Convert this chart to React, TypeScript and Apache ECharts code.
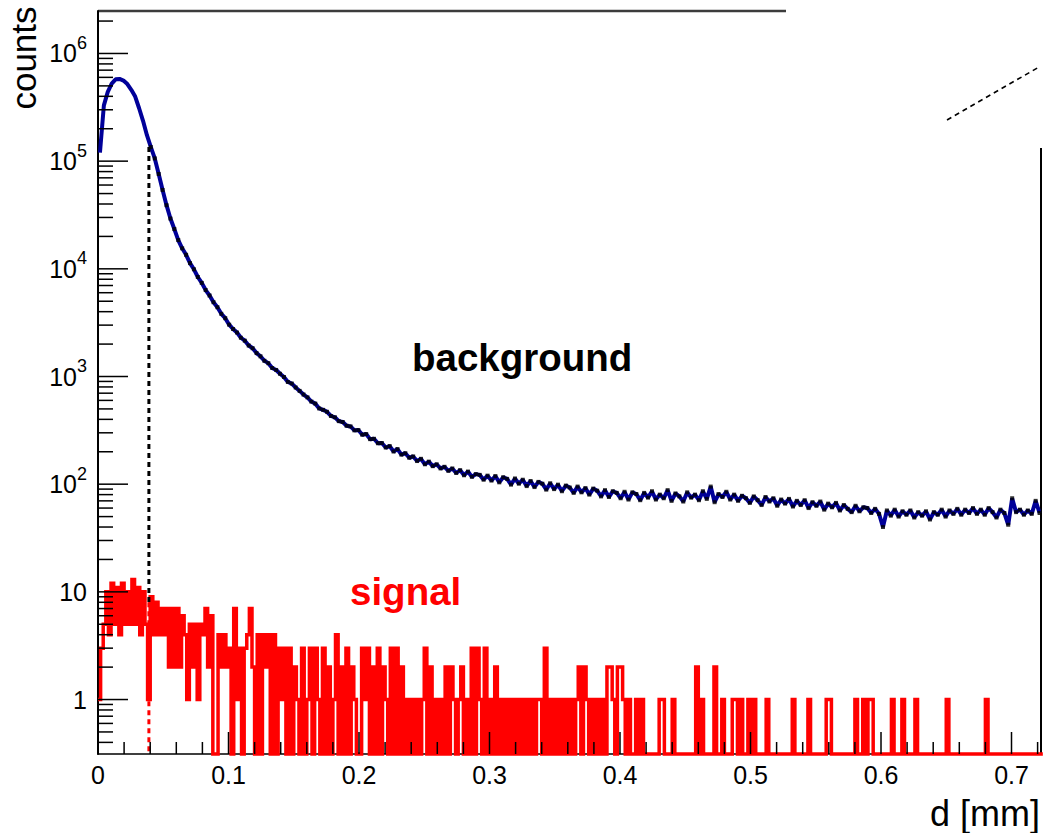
import React, { useEffect, useRef } from 'react';
import * as echarts from 'echarts';

// ---- axis ranges & bins ----
const X_MAX = 0.7226;
const Y_MIN = 0.312;
const Y_MAX = 2.48e6;
const BG_BIN = 0.003;
const SIG_BIN = 0.002;
const CUT = 0.039;
const CUT_JOIN = 8;

const X_TICK_LABELS = ['0', '0.1', '0.2', '0.3', '0.4', '0.5', '0.6', '0.7'];
const Y_DECADES = [0, 1, 2, 3, 4, 5, 6];

// ---- background (counts per 0.003 mm bin) ----
const bgPeak = [
  120000, 330000, 440000, 525000, 575000, 580000, 560000, 520000, 460000, 398000,
  310000, 237000, 174000, 135000, 106000, 76000, 54000, 39000, 29300, 23400,
  18500, 15500, 13500, 11300, 9900, 8400, 7400, 6350, 5650, 4900,
  4400, 3820, 3480, 3030, 2760,
];
const bgMid = [
  2560, 2290, 2150, 1940, 1830, 1650, 1540, 1400, 1330, 1200,
  1150, 1060, 990, 890, 860, 790, 735, 680, 640, 585,
  560, 505, 490, 470, 430, 418, 385, 378, 349, 344,
  316, 318, 288, 292, 262, 264, 240, 241, 219, 226,
  201, 212, 188, 194, 176, 181, 164, 172, 153, 162,
  147, 153, 140, 145, 133, 140, 127, 135, 121, 131,
  117, 124, 122, 110, 120,
];
const bgTail = [
  108, 119, 104, 116, 112, 99, 113, 101, 110, 96,
  107, 94, 105, 101, 89, 102, 90, 99, 86, 97,
  93, 83, 95, 84, 92, 80, 91, 87, 77, 88,
  76, 86, 83, 74, 85, 72, 84, 81, 71, 83,
  75, 86, 72, 80, 74, 88, 70, 82, 77, 69,
  84, 75, 80, 71, 86, 73, 95, 68, 81, 76,
  85, 72, 80, 70, 78, 74, 67, 77, 71, 64,
  76, 69, 74, 63, 72, 66, 73, 62, 70, 64,
  71, 60, 68, 63, 69, 58, 66, 61, 67, 57,
  64, 59, 55, 63, 56, 61, 60, 54, 59, 53,
  40, 57, 51, 58, 50, 56, 52, 57, 49, 55,
  51, 56, 47, 55, 52, 58, 50, 57, 53, 59,
  52, 58, 54, 60, 53, 58, 52, 60, 55, 49,
  58, 54, 42, 74, 55, 58, 52, 57, 53, 70,
  54,
];

// ---- signal (counts per 0.002 mm bin) ----
const sig0 = [
  1, 3, 5, 10, 4, 12, 5, 11, 4, 12, 5, 10, 5, 13, 5, 11, 4, 10, 5, 1,
  9, 4, 8, 4, 7, 4, 7, 2, 7, 2, 7, 2, 6, 4, 1, 5, 2, 5, 1, 5,
  4, 7, 2, 6, 0, 0, 4, 2, 4, 2,
];
const sig1 = [
  3, 0, 7, 1, 3, 0, 3, 4, 7, 2, 0, 4, 0, 4, 2, 4, 0, 4, 0, 3,
  1, 3, 0, 3, 0, 2, 1, 0, 3, 0, 1, 3, 0, 3, 1, 0, 3, 0, 2, 0,
  1, 4, 0, 2, 0, 3, 0, 2, 1, 0,
];
const sig2 = [
  0, 3, 1, 3, 0, 2, 0, 3, 0, 2, 1, 0, 3, 0, 3, 0, 2, 0, 1, 0,
  1, 0, 1, 0, 1, 3, 0, 2, 0, 1, 0, 1, 0, 2, 0, 2, 1, 0, 1, 2,
  0, 1, 0, 3, 0, 3, 1, 0, 3, 0,
];
const sig3 = [
  1, 0, 2, 0, 1, 0, 1, 0, 1, 0, 1, 0, 1, 0, 1, 0, 1, 0, 1, 1,
  0, 3, 0, 1, 0, 1, 0, 1, 0, 1, 0, 1, 0, 1, 2, 0, 2, 1, 0, 1,
  0, 1, 0, 1, 0, 2, 2, 1, 0, 2,
];
const sig4 = [
  2, 1, 0, 1, 0, 0, 1, 0, 1, 0, 0, 0, 0, 0, 0, 1, 1, 0, 0, 0,
  1, 0, 0, 0, 0, 0, 0, 0, 0, 2, 0, 1, 0, 0, 0, 0, 2, 0, 0, 1,
  0, 0, 0, 1, 1, 0, 1, 0, 0, 1,
];
const sig5 = [
  0, 1, 0, 0, 0, 0, 1, 0, 0, 0, 0, 0, 0, 0, 0, 0, 1, 0, 0, 0,
  0, 0, 1, 0, 0, 0, 0, 0, 0, 1, 1, 0, 0, 0, 0, 0, 0, 0, 0, 0,
  1, 0, 0, 1, 0, 1, 1, 0, 0, 0,
];
const sig6 = [
  0, 0, 0, 0, 1, 0, 0, 0, 1, 0, 0, 0, 0, 1, 0, 0, 0, 0, 0, 0,
  0, 0, 0, 0, 0, 1, 0, 0, 0, 0, 0, 0, 0, 0, 0, 0, 0, 0, 0, 0,
  1, 0, 0, 0, 0, 0, 0, 0, 0, 0, 0, 0, 0, 0, 0, 0, 0, 0, 0, 0,
  0, 0,
];

const FONT = 'Liberation Sans';
const GRID = { left: 98, right: 2, top: 11, bottom: 79 };

function stepPoints(values: number[], w: number, floor: number) {
  const pts: number[][] = [];
  values.forEach((v, i) => {
    const y = v > 0 ? v : floor;
    pts.push([i * w, y], [(i + 1) * w, y]);
  });
  return pts;
}

export default function App() {
  const ref = useRef<HTMLDivElement>(null);
  useEffect(() => {
    if (!ref.current) return;
    const chart = echarts.init(ref.current, null, { renderer: 'svg' });
    const bg = [...bgPeak, ...bgMid, ...bgTail];
    const sig = [...sig0, ...sig1, ...sig2, ...sig3, ...sig4, ...sig5, ...sig6];
    const bgCenters = bg.map((v, i) => [(i + 0.5) * BG_BIN, v]);
    const bgMarkers = bgCenters.filter((p) => p[0] >= CUT);
    const bgAtCut = bg[Math.floor(CUT / BG_BIN)];

    // tick marks (ROOT style, inside)
    const ticks: number[][] = [];
    for (let i = 0; i <= 36; i++) {
      const x = +(i * 0.02).toFixed(3);
      if (x > X_MAX) break;
      ticks.push([x, Y_MIN, i % 5 === 0 ? 22 : 12, 0]);
    }
    for (let n = -1; n <= 6; n++) {
      for (let m = 1; m <= 9; m++) {
        const v = m * Math.pow(10, n);
        if (v < Y_MIN || v > Y_MAX) continue;
        ticks.push([0, v, m === 1 ? 30 : 15, 1]);
      }
    }

    const option: any = {
      animation: false,
      grid: { ...GRID, containLabel: false },
      xAxis: {
        type: 'value',
        min: 0,
        max: X_MAX,
        interval: 0.1,
        axisLine: { show: true, onZero: false, lineStyle: { color: '#000', width: 1.5 } },
        axisTick: { show: false },
        splitLine: { show: false },
        axisLabel: {
          showMaxLabel: false,
          fontSize: 25,
          fontFamily: FONT,
          color: '#000',
          margin: 8,
          formatter: (v: number) => {
            const k = Math.round(v * 10);
            if (Math.abs(v * 10 - k) > 1e-6) return '';
            return X_TICK_LABELS[k] ?? '';
          },
        },
      },
      yAxis: {
        type: 'log',
        logBase: 10,
        min: Y_MIN,
        max: Y_MAX,
        axisLine: { show: true, lineStyle: { color: '#000', width: 2 } },
        axisTick: { show: false },
        minorTick: { show: false },
        splitLine: { show: false },
        axisLabel: {
          showMinLabel: false,
          showMaxLabel: false,
          fontSize: 25,
          fontFamily: FONT,
          color: '#000',
          margin: 11,
          formatter: (v: number) => {
            const L = Math.log10(v);
            const n = Math.round(L);
            if (Math.abs(L - n) > 1e-6 || !Y_DECADES.includes(n)) return '';
            if (n === 0) return '1';
            if (n === 1) return '10';
            return `{b|10}{e|${n}}`;
          },
          rich: {
            b: { fontSize: 25, fontFamily: FONT, color: '#000', lineHeight: 25, verticalAlign: 'bottom' },
            e: { fontSize: 18, fontFamily: FONT, color: '#000', lineHeight: 18, verticalAlign: 'bottom', padding: [0, 0, 14, 0] },
          },
        },
      },
      series: [
        {
          type: 'line',
          name: 'signal',
          data: stepPoints(sig, SIG_BIN, Y_MIN),
          showSymbol: false,
          symbol: 'none',
          clip: false,
          lineStyle: { color: '#ff0000', width: 3.5, join: 'miter' },
          z: 2,
        },
        {
          type: 'line',
          name: 'background',
          data: bgCenters,
          showSymbol: false,
          symbol: 'none',
          clip: true,
          lineStyle: { color: '#000099', width: 4 },
          z: 3,
        },
        {
          type: 'scatter',
          name: 'bgData',
          data: bgMarkers,
          symbol: 'rect',
          symbolSize: [4, 4],
          itemStyle: { color: '#000' },
          z: 4,
        },
        {
          type: 'line',
          name: 'cutBlack',
          data: [[CUT, bgAtCut], [CUT, CUT_JOIN]],
          symbol: 'none',
          lineStyle: { color: '#000', width: 3, type: [5, 4] },
          z: 5,
        },
        {
          type: 'line',
          name: 'cutRed',
          data: [[CUT, CUT_JOIN], [CUT, Y_MIN]],
          symbol: 'none',
          lineStyle: { color: '#ff0000', width: 3, type: [5, 4] },
          z: 5,
        },
        {
          type: 'custom',
          name: 'ticks',
          data: ticks,
          encode: { x: 0, y: 1 },
          clip: false,
          z: 10,
          silent: true,
          renderItem: (params: any, api: any) => {
            const p = api.coord([api.value(0), api.value(1)]);
            const len = api.value(2);
            const vertical = api.value(3) === 0;
            return {
              type: 'line',
              shape: vertical
                ? { x1: p[0], y1: p[1], x2: p[0], y2: p[1] - len }
                : { x1: p[0], y1: p[1], x2: p[0] + len, y2: p[1] },
              style: { stroke: '#000', lineWidth: 1.5 },
            };
          },
        },
      ],
      graphic: [
        { type: 'line', shape: { x1: GRID.left, y1: GRID.top, x2: 786, y2: GRID.top }, style: { stroke: '#3c3c3c', lineWidth: 2.5 } },
        { type: 'line', shape: { x1: 1041, y1: 148, x2: 1041, y2: 833 - GRID.bottom }, style: { stroke: '#000', lineWidth: 2 } },
        { type: 'line', shape: { x1: 947, y1: 120, x2: 1039, y2: 67 }, style: { stroke: '#000', lineWidth: 1.6, lineDash: [5, 4] } },
        { type: 'text', x: 23, y: 58, rotation: Math.PI / 2, style: { text: 'counts', font: `35px "${FONT}"`, fill: '#000', align: 'center', verticalAlign: 'middle' } },
        { type: 'text', x: 1040, y: 813, style: { text: 'd [mm]', font: `36px "${FONT}"`, fill: '#000', align: 'right', verticalAlign: 'middle' } },
        { type: 'text', x: 412, y: 357, style: { text: 'background', font: `bold 38.5px "${FONT}"`, fill: '#000', align: 'left', verticalAlign: 'middle' } },
        { type: 'text', x: 350, y: 591, style: { text: 'signal', font: `bold 38.5px "${FONT}"`, fill: '#ff0000', align: 'left', verticalAlign: 'middle' } },
      ],
    };
    chart.setOption(option);
    return () => chart.dispose();
  }, []);
  return <div ref={ref} style={{ position: 'absolute', left: 0, top: 0, width: 1043, height: 833, background: '#fff' }} />;
}
